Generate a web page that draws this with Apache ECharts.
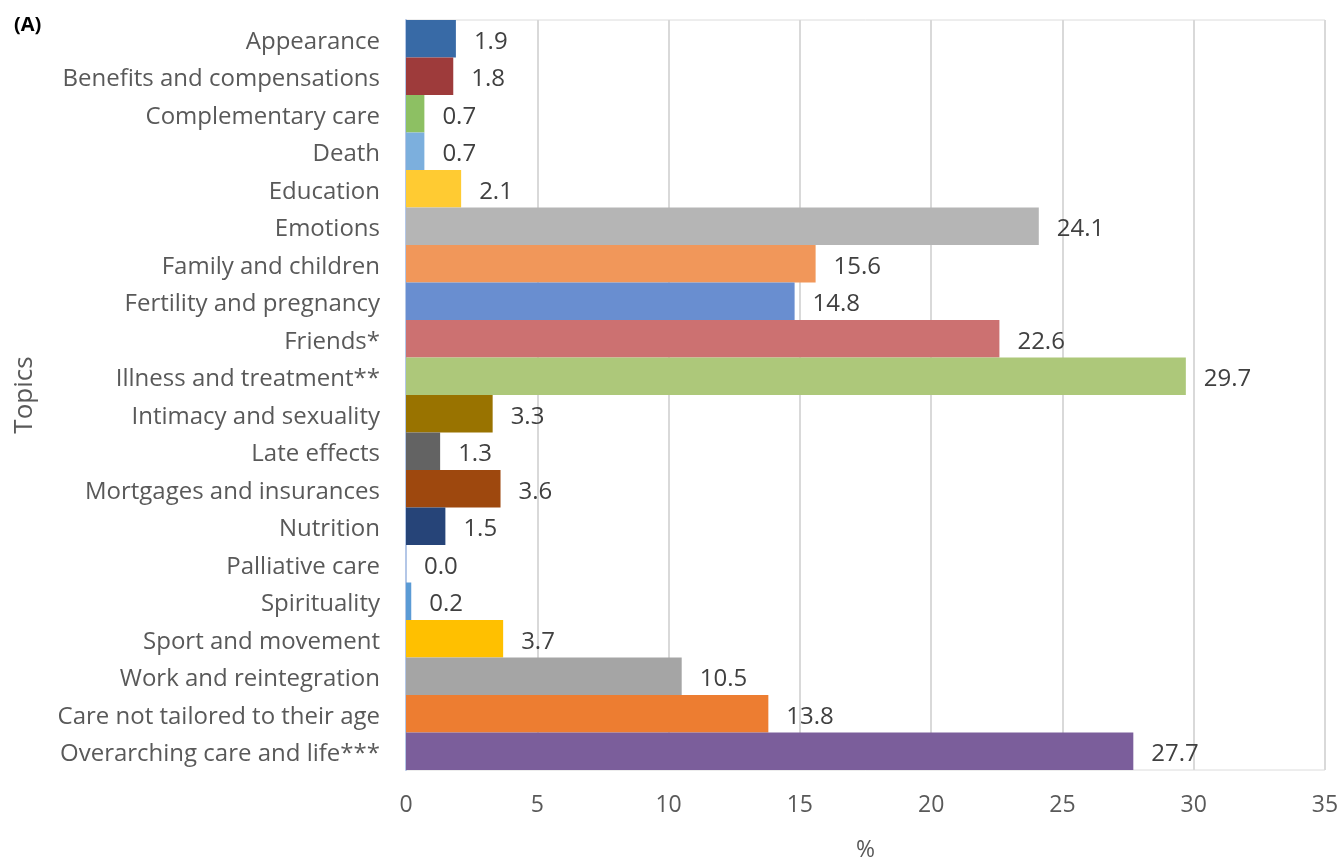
<!DOCTYPE html>
<html>
<head>
<meta charset="utf-8">
<script src="https://cdn.jsdelivr.net/npm/echarts@6/dist/echarts.min.js"></script>
<style>
  html, body { margin: 0; padding: 0; background: #fff; }
  #chart { width: 1340px; height: 862px; }
</style>
</head>
<body>
<div id="chart"></div>
<script>
// topics, top to bottom
const topics = [
  'Appearance', 'Benefits and compensations', 'Complementary care', 'Death',
  'Education', 'Emotions', 'Family and children', 'Fertility and pregnancy',
  'Friends*', 'Illness and treatment**', 'Intimacy and sexuality', 'Late effects',
  'Mortgages and insurances', 'Nutrition', 'Palliative care', 'Spirituality',
  'Sport and movement', 'Work and reintegration', 'Care not tailored to their age',
  'Overarching care and life***'
];
const percent = [1.9, 1.8, 0.7, 0.7, 2.1, 24.1, 15.6, 14.8, 22.6, 29.7, 3.3, 1.3, 3.6, 1.5, 0.0, 0.2, 3.7, 10.5, 13.8, 27.7];
const barColors = [
  '#386aa6', '#9e3b3b', '#8dc063', '#7cafdd', '#ffcb32', '#b5b5b5', '#f1975a',
  '#698ed0', '#cc7171', '#adc87a', '#997300', '#636363', '#9e480e', '#264478',
  '#a9c4e8', '#5b9bd5', '#ffc000', '#a5a5a5', '#ed7d31', '#7b5e9b'
];
const xTicks = { min: 0, max: 35, step: 5 };

const font = '"Open Sans", "Noto Sans", sans-serif';

const chart = echarts.init(document.getElementById('chart'), null, { renderer: 'canvas' });
chart.setOption({
  animation: false,
  textStyle: { fontFamily: font },
  title: {
    text: '(A)',
    left: 9, top: 10,
    textStyle: { fontSize: 20, fontWeight: 'bold', color: '#000', fontFamily: font }
  },
  grid: {
    left: 406, right: 15, top: 20, bottom: 92,
    outerBoundsMode: 'none',
    show: true, borderColor: '#dcdcdc', borderWidth: 1
  },
  xAxis: {
    type: 'value',
    min: xTicks.min, max: xTicks.max, interval: xTicks.step,
    name: '%', nameLocation: 'middle', nameGap: 69,
    nameTextStyle: { fontSize: 23, color: '#595959' },
    axisLine: { show: false },
    axisTick: { show: false },
    axisLabel: { fontSize: 23, color: '#595959', margin: 24 },
    splitLine: { lineStyle: { color: '#d9d9d9', width: 2 } }
  },
  yAxis: {
    type: 'category',
    data: topics,
    inverse: true,
    name: 'Topics', nameLocation: 'middle', nameGap: 368,
    nameTextStyle: { fontSize: 26, color: '#595959' },
    axisLine: { lineStyle: { color: '#b4c7e7', width: 2 } },
    axisTick: { length: 8, lineStyle: { color: '#b4c7e7', width: 2 } },
    axisLabel: {
      margin: 26,
      formatter: v => '{t|' + v + '}',
      rich: { t: { fontSize: 24, color: '#595959', fontFamily: font, padding: [6, 0, 0, 0] } }
    }
  },
  series: [{
    type: 'bar',
    data: percent.map((v, i) => ({ value: v, itemStyle: { color: barColors[i] } })),
    barCategoryGap: 0,
    label: {
      show: true, position: 'right', distance: 18, offset: [0, 3],
      fontSize: 24, color: '#404040',
      formatter: p => p.value.toFixed(1)
    }
  }]
});
</script>
</body>
</html>
